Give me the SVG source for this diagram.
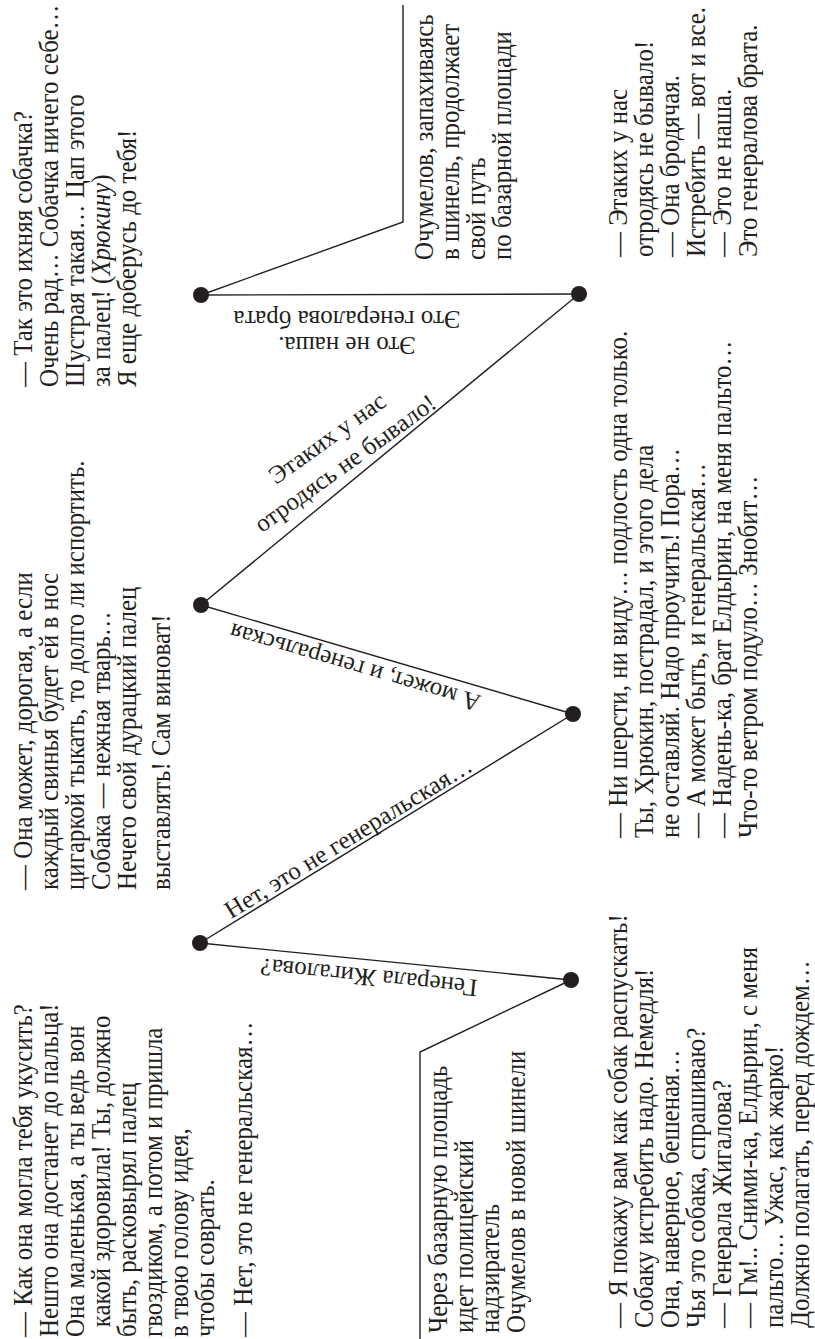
<svg xmlns="http://www.w3.org/2000/svg" width="815" height="1339" viewBox="0 0 815 1339">
<style>
.t{font-family:"Liberation Serif","Times New Roman",serif;font-size:28px;fill:#231f20}
.l{font-family:"Liberation Serif","Times New Roman",serif;font-size:25px;fill:#231f20}
.e{fill:none;stroke:#231f20;stroke-width:1.4}
.n{fill:#231f20}
</style>
<rect width="815" height="1339" fill="#ffffff"/>
<g id="connectors">
<polyline class="e" points="420,1339 420,1052 571,980"/>
<line class="e" x1="571" y1="980" x2="200" y2="943"/>
<line class="e" x1="200" y1="943" x2="573" y2="714"/>
<line class="e" x1="573" y1="714" x2="201" y2="605"/>
<line class="e" x1="201" y1="605" x2="579" y2="294"/>
<line class="e" x1="579" y1="294" x2="201" y2="295"/>
<polyline class="e" points="201,295 403,222 403,5"/>
<text class="l" transform="translate(478,980) rotate(185.7)">Генерала Жигалова?</text>
<text class="l" text-anchor="end" transform="translate(474,770) rotate(-31.55)">Нет, это не генеральская…</text>
<text class="l" transform="translate(482,696) rotate(196.3)">А может, и генеральская</text>
<text class="l" text-anchor="middle" transform="translate(350,470) rotate(-35.7)"><tspan x="0" y="-31">Этаких у нас</tspan><tspan x="0" y="0">отродясь не бывало!</tspan></text>
<text class="l" text-anchor="middle" transform="translate(347,337) rotate(180)"><tspan x="0" y="0">Это не наша.</tspan><tspan x="0" y="26">Это генералова брата</tspan></text>
</g>
<g id="node-1"><circle class="n" cx="200" cy="943" r="8"/></g>
<g id="node-2"><circle class="n" cx="571" cy="980" r="8"/></g>
<g id="node-3"><circle class="n" cx="201" cy="605" r="8"/></g>
<g id="node-4"><circle class="n" cx="573" cy="714" r="8"/></g>
<g id="node-5"><circle class="n" cx="201" cy="295" r="8"/></g>
<g id="node-6"><circle class="n" cx="579" cy="294" r="8"/></g>
<g id="text-a">
<text class="t" transform="translate(0,1337) rotate(-90) scale(0.89,1)">
<tspan x="0" y="32">— Как она могла тебя укусить?</tspan>
<tspan x="0" y="58">Нешто она достанет до пальца!</tspan>
<tspan x="0" y="84">Она маленькая, а ты ведь вон</tspan>
<tspan x="11" y="110">какой здоровила! Ты, должно</tspan>
<tspan x="0" y="136">быть, расковырял палец</tspan>
<tspan x="0" y="162">гвоздиком, а потом и пришла</tspan>
<tspan x="0" y="188">в твою голову идея,</tspan>
<tspan x="0" y="214">чтобы соврать.</tspan>
<tspan x="0" y="252">— Нет, это не генеральская…</tspan>
</text>
</g>
<g id="text-b">
<text class="t" transform="translate(0,890) rotate(-90) scale(0.89,1)">
<tspan x="0" y="32">— Она может, дорогая, а если</tspan>
<tspan x="0" y="58">каждый свинья будет ей в нос</tspan>
<tspan x="0" y="84">цигаркой тыкать, то долго ли испортить.</tspan>
<tspan x="0" y="110">Собака — нежная тварь…</tspan>
<tspan x="0" y="136">Нечего свой дурацкий палец</tspan>
<tspan x="0" y="170">выставлять! Сам виноват!</tspan>
</text>
</g>
<g id="text-c">
<text class="t" transform="translate(0,387) rotate(-90) scale(0.89,1)">
<tspan x="0" y="32">— Так это ихняя собачка?</tspan>
<tspan x="0" y="58">Очень рад… Собачка ничего себе…</tspan>
<tspan x="0" y="84">Шустрая такая… Цап этого</tspan>
<tspan x="0" y="110">за палец! (<tspan font-style="italic">Хрюкину</tspan>)</tspan>
<tspan x="0" y="136">Я еще доберусь до тебя!</tspan>
</text>
</g>
<g id="text-d">
<text class="t" transform="translate(0,1333) rotate(-90) scale(0.89,1)">
<tspan x="0" y="447">Через базарную площадь</tspan>
<tspan x="0" y="473">идет полицейский</tspan>
<tspan x="0" y="499">надзиратель</tspan>
<tspan x="0" y="525">Очумелов в новой шинели</tspan>
</text>
</g>
<g id="text-e">
<text class="t" transform="translate(0,260) rotate(-90) scale(0.89,1)">
<tspan x="0" y="433">Очумелов, запахиваясь</tspan>
<tspan x="0" y="459">в шинель, продолжает</tspan>
<tspan x="0" y="485">свой путь</tspan>
<tspan x="0" y="511">по базарной площади</tspan>
</text>
</g>
<g id="text-f">
<text class="t" transform="translate(0,1328) rotate(-90) scale(0.89,1)">
<tspan x="0" y="627">— Я покажу вам как собак распускать!</tspan>
<tspan x="0" y="653">Собаку истребить надо. Немедля!</tspan>
<tspan x="0" y="679">Она, наверное, бешеная…</tspan>
<tspan x="0" y="705">Чья это собака, спрашиваю?</tspan>
<tspan x="0" y="731">— Генерала Жигалова?</tspan>
<tspan x="0" y="757">— Гм!.. Сними-ка, Елдырин, с меня</tspan>
<tspan x="0" y="783">пальто… Ужас, как жарко!</tspan>
<tspan x="0" y="809">Должно полагать, перед дождем…</tspan>
</text>
</g>
<g id="text-g">
<text class="t" transform="translate(0,838) rotate(-90) scale(0.89,1)">
<tspan x="0" y="627">— Ни шерсти, ни виду… подлость одна только.</tspan>
<tspan x="0" y="653">Ты, Хрюкин, пострадал, и этого дела</tspan>
<tspan x="0" y="679">не оставляй. Надо проучить! Пора…</tspan>
<tspan x="0" y="705">— А может быть, и генеральская…</tspan>
<tspan x="0" y="731">— Надень-ка, брат Елдырин, на меня пальто…</tspan>
<tspan x="0" y="757">Что-то ветром подуло… Знобит…</tspan>
</text>
</g>
<g id="text-h">
<text class="t" transform="translate(0,257) rotate(-90) scale(0.89,1)">
<tspan x="0" y="627">— Этаких у нас</tspan>
<tspan x="0" y="653">отродясь не бывало!</tspan>
<tspan x="0" y="679">— Она бродячая.</tspan>
<tspan x="0" y="705">Истребить — вот и все.</tspan>
<tspan x="0" y="731">— Это не наша.</tspan>
<tspan x="0" y="757">Это генералова брата.</tspan>
</text>
</g>
</svg>
